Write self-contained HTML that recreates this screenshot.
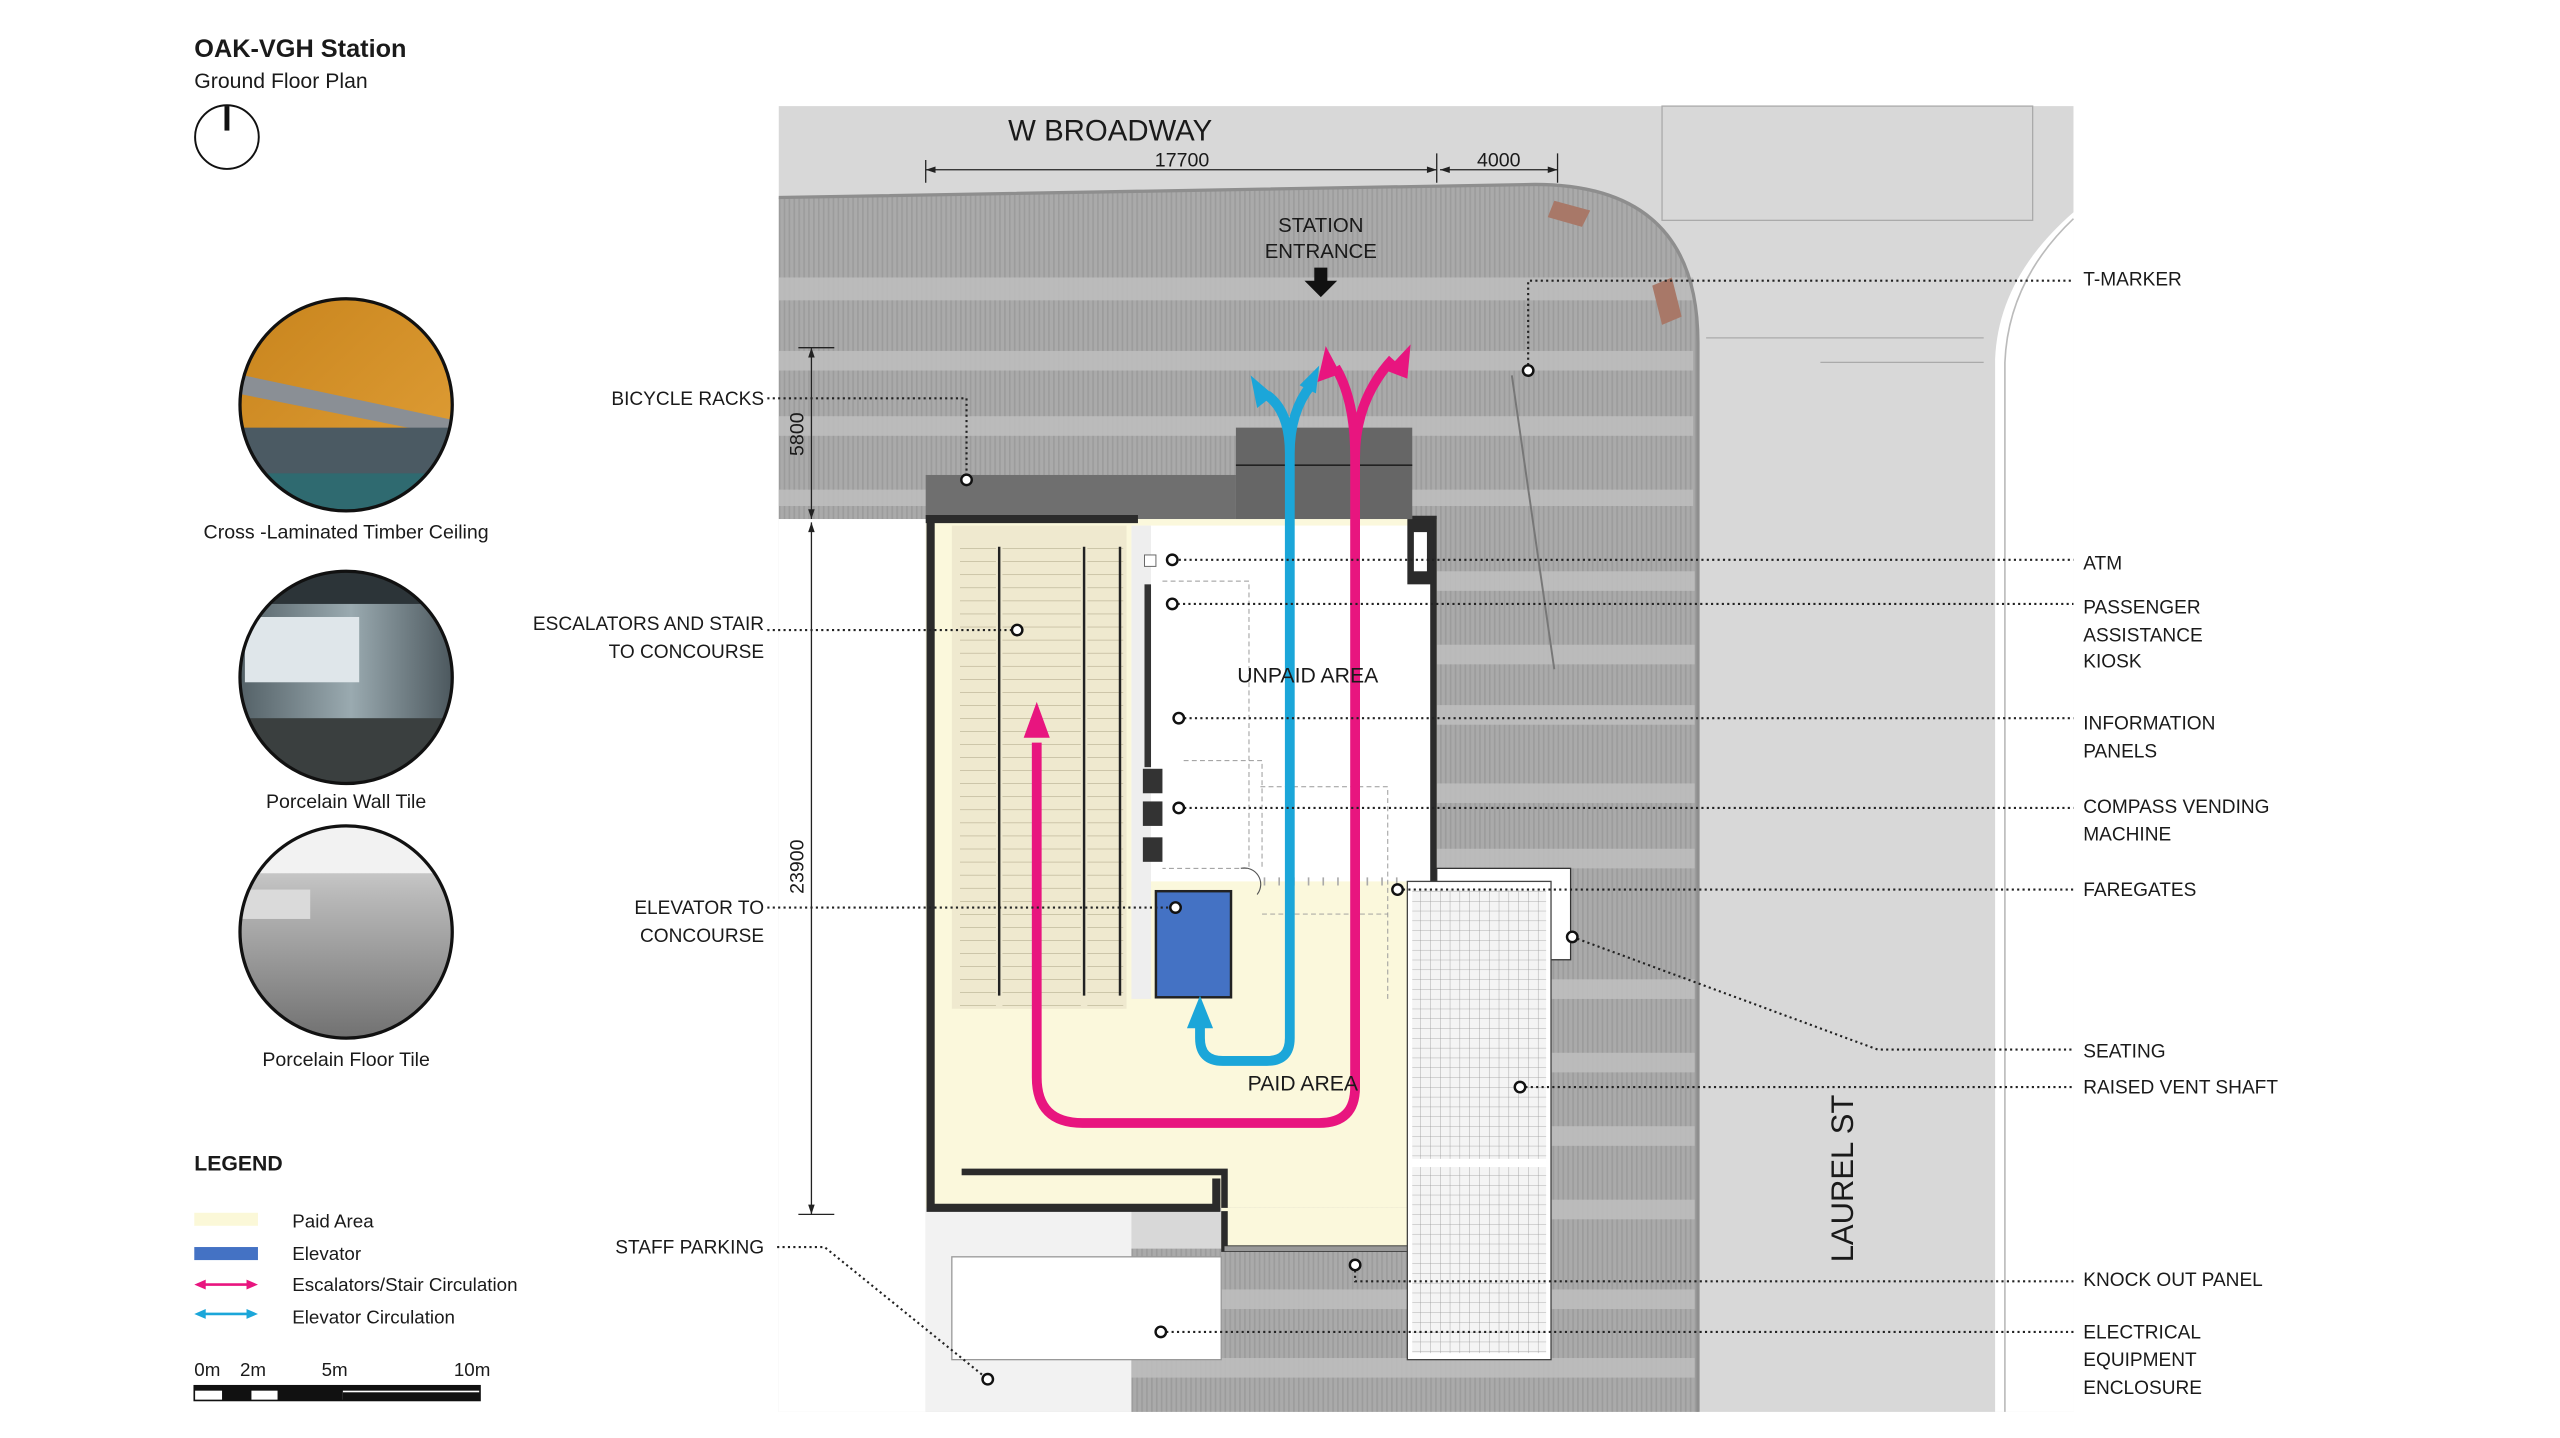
<!DOCTYPE html>
<html><head><meta charset="utf-8"><style>
html,body{margin:0;padding:0;background:#fff;}
svg{display:block;}
text{font-family:"Liberation Sans",Arial,sans-serif;fill:#1a1a1a;}
.n{font-family:"Liberation Sans Narrow","Liberation Sans",sans-serif;}
.lb{font-size:11.7px;}
.dl{stroke:#222;stroke-width:1.3;stroke-dasharray:1.3 2;fill:none;}
.dot{fill:#fff;stroke:#111;stroke-width:1.5;}
</style></head><body>
<svg width="2560" height="1438" viewBox="0 0 1568 881" preserveAspectRatio="none" xmlns="http://www.w3.org/2000/svg">
<defs>
<pattern id="vl" width="3" height="10" patternUnits="userSpaceOnUse"><rect width="3" height="10" fill="#aaaaaa"/><rect width="1" height="10" fill="#9c9c9c"/></pattern>
<pattern id="grid" width="6" height="6" patternUnits="userSpaceOnUse"><rect width="6" height="6" fill="#f4f4f4"/><path d="M0 0H6M0 0V6" stroke="#999" stroke-width="0.5"/></pattern>
<pattern id="esc" width="10" height="8" patternUnits="userSpaceOnUse"><rect width="10" height="8" fill="#efe9cf"/><path d="M0 0H10" stroke="#a89f80" stroke-width="0.6"/></pattern>
<linearGradient id="wood" x1="0" y1="0" x2="1" y2="1"><stop offset="0" stop-color="#c7831c"/><stop offset="1" stop-color="#e3a23a"/></linearGradient>
<linearGradient id="wall" x1="0" y1="0" x2="1" y2="0"><stop offset="0" stop-color="#4d5a60"/><stop offset="0.5" stop-color="#9aaab0"/><stop offset="1" stop-color="#3c474d"/></linearGradient>
<linearGradient id="floor" x1="0" y1="0" x2="0" y2="1"><stop offset="0" stop-color="#e8e8e8"/><stop offset="0.35" stop-color="#b8b8b8"/><stop offset="1" stop-color="#6e6e6e"/></linearGradient>
<clipPath id="c1"><circle cx="212" cy="248" r="65"/></clipPath>
<clipPath id="c2"><circle cx="212" cy="415" r="65"/></clipPath>
<clipPath id="c3"><circle cx="212" cy="571" r="65"/></clipPath>
</defs>

<text x="119" y="35" style="font-size:15.5px;font-weight:bold">OAK-VGH Station</text>
<text x="119" y="54" style="font-size:13px">Ground Floor Plan</text>
<circle cx="139" cy="84" r="19.5" fill="none" stroke="#111" stroke-width="1.2"/>
<rect x="137.5" y="65" width="3" height="15" fill="#111"/>

<g clip-path="url(#c1)"><rect x="140" y="180" width="150" height="140" fill="url(#wood)"/><path d="M140 228 L290 260 L290 270 L140 240Z" fill="#8a8f95"/><rect x="140" y="262" width="150" height="60" fill="#4b5a63"/><rect x="140" y="290" width="150" height="30" fill="#2f6a70"/></g>
<circle cx="212" cy="248" r="65" fill="none" stroke="#111" stroke-width="2"/>
<text x="212" y="330" text-anchor="middle" style="font-size:12px">Cross -Laminated Timber Ceiling</text>
<g clip-path="url(#c2)"><rect x="140" y="345" width="150" height="140" fill="url(#wall)"/><rect x="140" y="345" width="150" height="25" fill="#2c3438"/><rect x="150" y="378" width="70" height="40" fill="#dfe6ea"/><rect x="140" y="440" width="150" height="45" fill="#3a3f3f"/></g>
<circle cx="212" cy="415" r="65" fill="none" stroke="#111" stroke-width="2"/>
<text x="212" y="495" text-anchor="middle" style="font-size:12px">Porcelain Wall Tile</text>
<g clip-path="url(#c3)"><rect x="140" y="500" width="150" height="140" fill="url(#floor)"/><rect x="140" y="505" width="150" height="30" fill="#f2f2f2"/><rect x="145" y="545" width="45" height="18" fill="#dadada"/></g>
<circle cx="212" cy="571" r="65" fill="none" stroke="#111" stroke-width="2"/>
<text x="212" y="653" text-anchor="middle" style="font-size:12px">Porcelain Floor Tile</text>

<text x="119" y="717" style="font-size:13px;font-weight:bold">LEGEND</text>
<rect x="119" y="743" width="39" height="8" fill="#fbf8d8"/>
<text x="179" y="752" style="font-size:11.5px">Paid Area</text>
<rect x="119" y="764" width="39" height="8" fill="#4472c4"/>
<text x="179" y="772" style="font-size:11.5px">Elevator</text>
<path d="M121 787H156" stroke="#e8157f" stroke-width="1.6"/><path d="M119 787l7-3v6zM158 787l-7-3v6z" fill="#e8157f"/>
<text x="179" y="791" style="font-size:11.5px">Escalators/Stair Circulation</text>
<path d="M121 805H156" stroke="#1ba6d9" stroke-width="1.6"/><path d="M119 805l7-3v6zM158 805l-7-3v6z" fill="#1ba6d9"/>
<text x="179" y="811" style="font-size:11.5px">Elevator Circulation</text>
<text x="119" y="843" style="font-size:11.5px">0m</text><text x="147" y="843" style="font-size:11.5px">2m</text><text x="197" y="843" style="font-size:11.5px">5m</text><text x="278" y="843" style="font-size:11.5px">10m</text>
<rect x="119" y="849" width="175" height="9" fill="#fff" stroke="#111" stroke-width="1"/>
<rect x="119" y="849" width="175" height="3" fill="#111"/>
<rect x="136" y="849" width="18" height="9" fill="#111"/><rect x="170" y="849" width="40" height="9" fill="#111"/><rect x="210" y="853" width="84" height="5" fill="#111"/>

<rect x="477" y="65" width="793" height="800" fill="#d8d8d8"/>
<rect x="477" y="318" width="90" height="547" fill="#fff"/>
<rect x="567" y="740" width="126" height="125" fill="#f2f2f2"/>
<rect x="1018" y="65" width="227" height="70" fill="none" stroke="#aaa" stroke-width="0.8"/>
<path d="M1270 130 Q1224 170 1222 220 L1222 865 L1270 865Z" fill="#fff"/>
<path d="M1270 134 Q1230 172 1228 222 L1228 865" fill="none" stroke="#bbb" stroke-width="1"/>
<path d="M1045 207H1215M1115 222H1215" stroke="#aaa" stroke-width="0.8"/>
<path d="M477 121 L940 113 Q1040 113 1040 210 L1040 865 L693 865 L693 765 L748 765 L748 318 L567 318 L477 318Z" fill="url(#vl)"/>
<g fill="#bfbfbf" opacity="0.85">
<rect x="477" y="170" width="560" height="14"/><rect x="477" y="215" width="560" height="12"/><rect x="477" y="255" width="560" height="12"/><rect x="477" y="300" width="560" height="10"/>
<rect x="880" y="350" width="158" height="12"/><rect x="880" y="395" width="158" height="12"/><rect x="880" y="432" width="158" height="12"/><rect x="880" y="480" width="158" height="12"/><rect x="880" y="520" width="158" height="12"/><rect x="950" y="600" width="88" height="12"/><rect x="950" y="645" width="88" height="12"/><rect x="950" y="690" width="88" height="12"/><rect x="950" y="735" width="88" height="12"/><rect x="693" y="790" width="345" height="12"/><rect x="693" y="832" width="345" height="12"/>
</g>
<path d="M477 121 L940 113 Q1040 113 1040 210 L1040 865" fill="none" stroke="#8e8e8e" stroke-width="2"/>
<path d="M952 123 l22 6 -5 10 -21 -6z M1012 175 l12 -5 6 24 -12 5z" fill="#a87868"/>
<path d="M926 230 L952 410" stroke="#777" stroke-width="1.2"/>
<rect x="583" y="770" width="165" height="63" fill="#fff" stroke="#999" stroke-width="0.8"/>

<rect x="567" y="291" width="190" height="27" fill="#6f6f6f"/>
<rect x="757" y="262" width="108" height="56" fill="#666"/>
<path d="M757 285H865" stroke="#222" stroke-width="1"/>
<rect x="567" y="318" width="313" height="422" fill="#fbf8dc"/>
<rect x="748" y="740" width="132" height="25" fill="#fbf8dc"/>
<rect x="693" y="322" width="185" height="218" fill="#fff"/>
<rect x="693" y="322" width="12" height="290" fill="#eee"/>
<rect x="583" y="322" width="107" height="296" fill="#efe9cf"/>
<rect x="588" y="333" width="22" height="285" fill="url(#esc)"/>
<rect x="614" y="333" width="48" height="285" fill="url(#esc)"/>
<rect x="666" y="333" width="22" height="285" fill="url(#esc)"/>
<path d="M612 335V610M664 335V610M686 335V610" stroke="#222" stroke-width="1.5"/>
<path d="M570 318V740H745V722M567 318H697" fill="none" stroke="#2b2b2b" stroke-width="5"/>
<path d="M589 718H750V740M750 742V765H878V540M878 540V318H865" fill="none" stroke="#2b2b2b" stroke-width="4"/>
<rect x="862" y="318" width="16" height="40" fill="#2b2b2b"/><rect x="866" y="326" width="8" height="24" fill="#fff"/>
<path d="M750 765H878" stroke="#999" stroke-width="3"/>
<rect x="701" y="358" width="4" height="112" fill="#333"/>
<rect x="700" y="471" width="12" height="15" fill="#333"/><rect x="700" y="491" width="12" height="15" fill="#333"/><rect x="700" y="513" width="12" height="15" fill="#333"/>
<rect x="701" y="340" width="7" height="7" fill="#fff" stroke="#666" stroke-width="0.6"/>
<path d="M712 356H765V532H712M725 466H773V532M772 482H850V612M773 560H850" fill="none" stroke="#999" stroke-width="0.6" stroke-dasharray="3 2"/>
<path d="M774 540H860" stroke="#aaa" stroke-width="5" stroke-dasharray="1 8"/>
<rect x="880" y="532" width="82" height="56" fill="#fff" stroke="#333" stroke-width="0.8"/>
<rect x="862" y="540" width="88" height="293" fill="#fff" stroke="#444" stroke-width="0.8"/>
<rect x="865" y="545" width="82" height="165" fill="url(#grid)"/>
<rect x="865" y="715" width="82" height="114" fill="url(#grid)"/>
<rect x="708" y="546" width="46" height="65" fill="#4472c4" stroke="#222" stroke-width="1.5"/>
<path d="M760 532a10 10 0 0 1 10 16" fill="none" stroke="#555" stroke-width="0.7"/>

<g fill="none" stroke-linejoin="round">
<path d="M635 455 V660 Q635 688 663 688 H808 Q830 688 830 666 V280 Q830 245 818 225 M830 280 Q830 245 853 220" stroke="#e8157f" stroke-width="6"/>
<path d="M735 625 V636 Q735 650 749 650 H776 Q790 650 790 636 V278 Q790 252 776 242 M790 278 Q790 252 803 236" stroke="#1ba6d9" stroke-width="6"/>
</g>
<path d="M635 430 l-8 22 h16z" fill="#e8157f"/>
<path d="M812 212 l-5 22 14 -5z M864 211 l-15 16 13 5z" fill="#e8157f"/>
<path d="M735 610 l-8 20 h16z" fill="#1ba6d9"/>
<path d="M766 230 l4 20 10 -8z M808 224 l-12 12 10 5z" fill="#1ba6d9"/>

<text x="680" y="86" text-anchor="middle" class="n" style="font-size:18px">W BROADWAY</text>
<path d="M567 104H880M882 104H954" stroke="#222" stroke-width="0.8"/>
<path d="M567 98V112M880 94V112M954 94V112" stroke="#222" stroke-width="0.8"/>
<path d="M567 104l6-2v4zM880 104l-6-2v4zM882 104l6-2v4zM954 104l-6-2v4z" fill="#222"/>
<text x="724" y="102" text-anchor="middle" class="n" style="font-size:12px">17700</text>
<text x="918" y="102" text-anchor="middle" class="n" style="font-size:12px">4000</text>
<text x="809" y="142" text-anchor="middle" class="n" style="font-size:12.5px">STATION</text>
<text x="809" y="158" text-anchor="middle" class="n" style="font-size:12.5px">ENTRANCE</text>
<path d="M805 164h8v8h6l-10 10 -10-10h6z" fill="#111"/>
<text x="801" y="418" text-anchor="middle" class="n" style="font-size:13px">UNPAID AREA</text>
<text x="798" y="668" text-anchor="middle" class="n" style="font-size:13px">PAID AREA</text>
<text transform="translate(1135,722) rotate(-90)" text-anchor="middle" class="n" style="font-size:19px">LAUREL ST</text>
<path d="M497 213V318M497 320V744M489 213H511M489 744H511" stroke="#222" stroke-width="0.8"/>
<path d="M497 213l-2 6h4zM497 318l-2-6h4zM497 320l-2 6h4zM497 744l-2-6h4z" fill="#222"/>
<text transform="translate(492,266) rotate(-90)" text-anchor="middle" class="n" style="font-size:12px">5800</text>
<text transform="translate(492,531) rotate(-90)" text-anchor="middle" class="n" style="font-size:12px">23900</text>

<path class="dl" d="M470 244H592V292M470 386H623M470 556H720M476 764H505L605 845M722 343H1270M718 370H1270M722 440H1270M722 495H1270M856 545H1270M963 574L1150 643H1270M931 666H1270M830 775V785H1270M711 816H1270M936 227V172H1270"/>
<g class="dot">
<circle cx="592" cy="294" r="3.2"/><circle cx="623" cy="386" r="3.2"/><circle cx="720" cy="556" r="3.2"/><circle cx="605" cy="845" r="3.2"/>
<circle cx="718" cy="343" r="3.2"/><circle cx="718" cy="370" r="3.2"/><circle cx="722" cy="440" r="3.2"/><circle cx="722" cy="495" r="3.2"/><circle cx="856" cy="545" r="3.2"/><circle cx="963" cy="574" r="3.2"/><circle cx="931" cy="666" r="3.2"/><circle cx="830" cy="775" r="3.2"/><circle cx="711" cy="816" r="3.2"/><circle cx="936" cy="227" r="3.2"/>
</g>

<g text-anchor="end">
<text x="468" y="248" class="lb">BICYCLE RACKS</text>
<text x="468" y="386" class="lb">ESCALATORS AND STAIR</text>
<text x="468" y="403" class="lb">TO CONCOURSE</text>
<text x="468" y="560" class="lb">ELEVATOR TO</text>
<text x="468" y="577" class="lb">CONCOURSE</text>
<text x="468" y="768" class="lb">STAFF PARKING</text>
</g>
<g>
<text x="1276" y="175" class="lb">T-MARKER</text>
<text x="1276" y="349" class="lb">ATM</text>
<text x="1276" y="376" class="lb">PASSENGER</text>
<text x="1276" y="393" class="lb">ASSISTANCE</text>
<text x="1276" y="409" class="lb">KIOSK</text>
<text x="1276" y="447" class="lb">INFORMATION</text>
<text x="1276" y="464" class="lb">PANELS</text>
<text x="1276" y="498" class="lb">COMPASS VENDING</text>
<text x="1276" y="515" class="lb">MACHINE</text>
<text x="1276" y="549" class="lb">FAREGATES</text>
<text x="1276" y="648" class="lb">SEATING</text>
<text x="1276" y="670" class="lb">RAISED VENT SHAFT</text>
<text x="1276" y="788" class="lb">KNOCK OUT PANEL</text>
<text x="1276" y="820" class="lb">ELECTRICAL</text>
<text x="1276" y="837" class="lb">EQUIPMENT</text>
<text x="1276" y="854" class="lb">ENCLOSURE</text>
</g>
</svg>
</body></html>
